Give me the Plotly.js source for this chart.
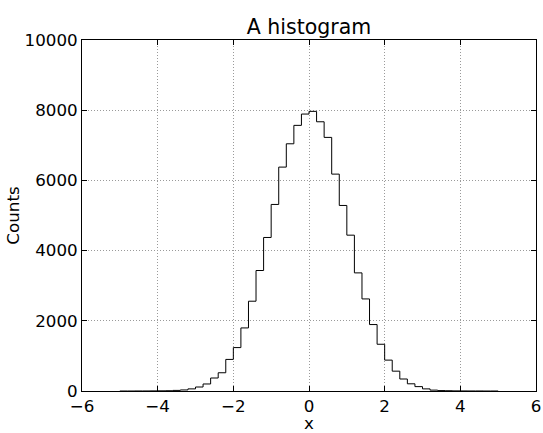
<!DOCTYPE html>
<html>
<head>
<meta charset="utf-8">
<script src="https://cdn.plot.ly/plotly-3.0.1.min.js"></script>
<style>html,body{margin:0;padding:0;background:#fff;}#chart{width:543px;height:433px;}</style>
</head>
<body>
<div id="chart"></div>
<script>
// Histogram bin edges: from -5 to 5, width 0.2 (50 bins)
const binStart = -5.0;
const binWidth = 0.2;
const counts = [
  0, 0, 1, 1, 3, 5, 8, 17, 30, 60,
  114, 200, 370, 520, 900, 1237, 1797, 2558, 3433, 4374,
  5315, 6379, 7043, 7568, 7890, 7967, 7670, 7225, 6179, 5286,
  4440, 3365, 2623, 1893, 1332, 880, 565, 342, 205, 125,
  60, 25, 12, 8, 4, 2, 1, 1, 0, 0
];
const xTicks = [-6, -4, -2, 0, 2, 4, 6];
const yTicks = [0, 2000, 4000, 6000, 8000, 10000];

const edges = counts.map((_, i) => +(binStart + i * binWidth).toFixed(2));
edges.push(+(binStart + counts.length * binWidth).toFixed(2));

// step outline: (e0,0),(e0,c0),(e1,c1),...,(e49,c49),(e50,0) with 'hv'
const xs = [edges[0]].concat(edges.slice(0, counts.length)).concat([edges[counts.length]]);
const ys = [0].concat(counts).concat([0]);

const font = {family: 'DejaVu Sans, sans-serif', size: 16.7, color: '#000'};

const trace = {
  x: xs, y: ys, type: 'scatter', mode: 'lines',
  line: {shape: 'hv', color: '#000', width: 1},
  hoverinfo: 'skip', showlegend: false
};

const axisCommon = {
  showline: true, linecolor: '#000', linewidth: 1, mirror: 'ticks',
  ticks: 'inside', ticklen: 5, tickwidth: 1, tickcolor: '#000',
  showgrid: true, gridcolor: '#9a9a9a', gridwidth: 1, griddash: '1px,2px',
  zeroline: false, tickfont: font
};

const layout = {
  width: 543, height: 433,
  margin: {l: 82, r: 7, t: 40, b: 42},
  paper_bgcolor: '#fff', plot_bgcolor: '#fff',
  font: font,
  title: {text: 'A histogram', font: {family: 'DejaVu Sans, sans-serif', size: 20.5, color: '#000'},
          x: 0.5, xref: 'paper', xanchor: 'center', y: 1, yref: 'paper', yanchor: 'bottom', pad: {b: 6}},
  xaxis: Object.assign({}, axisCommon, {
    range: [-6, 6], tickvals: xTicks, ticktext: xTicks.map(v => v < 0 ? '\u2212' + Math.abs(v) : String(v)),
    title: {text: 'x', font: font, standoff: 4}
  }),
  yaxis: Object.assign({}, axisCommon, {
    range: [0, 10000], tickvals: yTicks, ticktext: yTicks.map(String),
    title: {text: 'Counts', font: font, standoff: 0}
  })
};

Plotly.newPlot('chart', [trace], layout, {displayModeBar: false, staticPlot: true});
</script>
</body>
</html>
